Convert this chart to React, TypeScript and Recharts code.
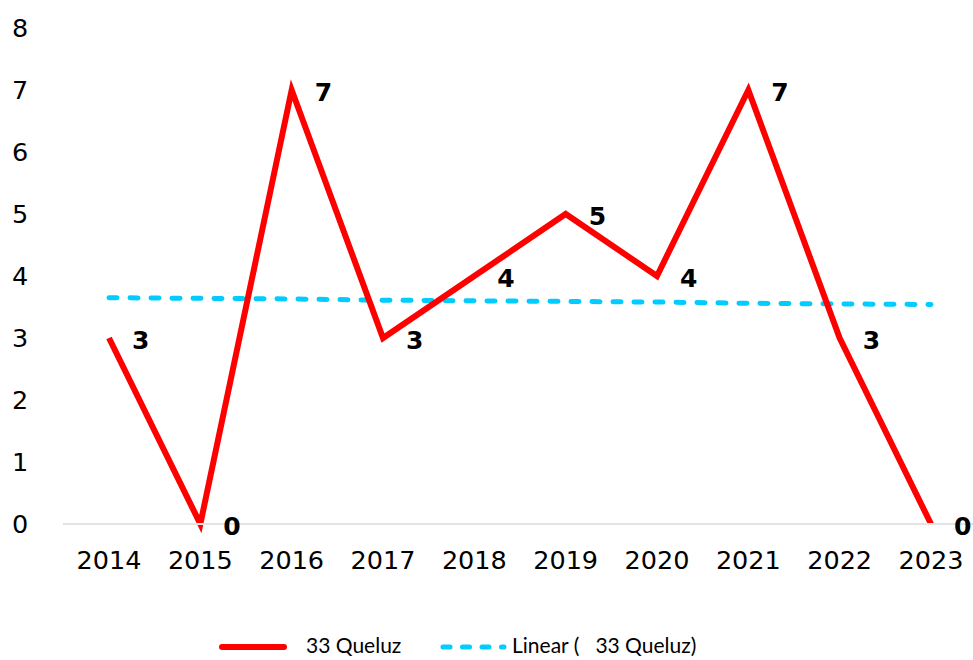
import { LineChart, Line, XAxis, YAxis, LabelList } from 'recharts'

const years = ['2014', '2015', '2016', '2017', '2018', '2019', '2020', '2021', '2022', '2023']
const queluz = [3, 0, 7, 3, 4, 5, 4, 7, 3, 0]
const trend = [3.65, 3.64, 3.63, 3.61, 3.60, 3.59, 3.58, 3.56, 3.55, 3.54]
const yTicks = [0, 1, 2, 3, 4, 5, 6, 7, 8]

const data = years.map((y, i) => ({ year: y, queluz: queluz[i], trend: trend[i] }))

const RED = '#FF0000'
const BLUE = '#00CCFF'
const tickFont = 'Verdana, "DejaVu Sans", sans-serif'

const YTick = (p: any) => (
  <text x={20} y={p.y} dy="0.36em" textAnchor="middle" fontSize={25.5} fontFamily={tickFont} fill="#000">
    {p.payload.value}
  </text>
)

const XTick = (p: any) => (
  <text x={p.x} y={569} textAnchor="middle" fontSize={25.5} fontFamily={tickFont} fill="#000">
    {p.payload.value}
  </text>
)

const PointLabel = (p: any) => (
  <text x={p.x + 23} y={p.y + 2} dy="0.36em" fontSize={25} fontWeight="bold" fontFamily={tickFont} fill="#000">
    {p.value}
  </text>
)

const LegendBox = () => (
  <svg width={973} height={30} style={{ display: 'block' }}>
    <line x1={222} y1={17} x2={284} y2={17} stroke={RED} strokeWidth={6} strokeLinecap="round" />
    <text x={306} y={15} dy="0.36em" fontSize={21} fontFamily="Lato, 'Open Sans', sans-serif" fill="#000">33 Queluz</text>
    <line x1={443} y1={17} x2={504} y2={17} stroke={BLUE} strokeWidth={5} strokeDasharray="7 12.5" strokeLinecap="round" />
    <text x={512} y={15} dy="0.36em" fontSize={21} fontFamily="Lato, 'Open Sans', sans-serif" fill="#000" style={{ whiteSpace: 'pre' }}>
      {'Linear (   33 Queluz)'}
    </text>
  </svg>
)

export default function App() {
  return (
    <div style={{ position: 'absolute', left: 0, top: 0, width: 973, height: 660, overflow: 'hidden', background: '#fff' }}>
      <LineChart width={980} height={660} data={data} margin={{ top: 28, right: 3, left: 0, bottom: 96 }}>
        <XAxis dataKey="year" padding={{ left: 46, right: 46 }} axisLine={{ stroke: '#e3e3e3', strokeWidth: 2 }}
          tickLine={false} tick={XTick} interval={0} height={40} />
        <YAxis domain={[0, 8]} ticks={yTicks} width={63} axisLine={false} tickLine={false} tick={YTick} interval={0} />
        <Line dataKey="trend" stroke={BLUE} strokeWidth={5} strokeDasharray="8 13" strokeLinecap="round"
          dot={false} activeDot={false} isAnimationActive={false} />
        <Line dataKey="queluz" stroke={RED} strokeWidth={6} strokeLinejoin="miter" dot={false} activeDot={false}
          isAnimationActive={false}>
          <LabelList dataKey="queluz" content={PointLabel} />
        </Line>
      </LineChart>
      <div style={{ position: 'absolute', left: 0, top: 630 }}>
        <LegendBox />
      </div>
    </div>
  )
}
